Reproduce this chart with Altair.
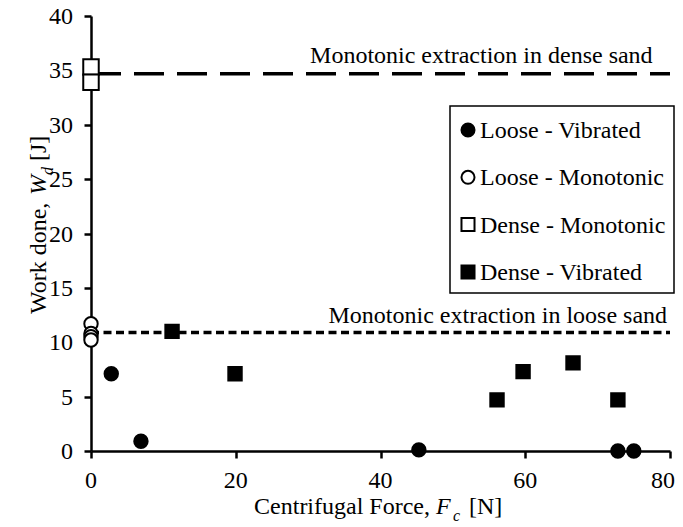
import altair as alt
import pandas as pd

FONT = "Liberation Serif"

series = ["Loose - Vibrated", "Loose - Monotonic", "Dense - Monotonic", "Dense - Vibrated"]
series_shapes = ["circle", "circle", "square", "square"]
series_fills = ["black", "white", "white", "black"]

loose_vib_F = [2.8, 6.9, 45.3, 72.8, 75.0]
loose_vib_W = [7.1, 0.9, 0.1, 0.0, 0.0]
loose_mono_F = [0.0, 0.0, 0.0, 0.0]
loose_mono_W = [10.2, 10.5, 10.8, 11.7]
dense_mono_F = [0.0, 0.0]
dense_mono_W = [35.3, 33.9]
dense_vib_F = [11.2, 19.9, 56.1, 59.7, 66.6, 72.8]
dense_vib_W = [11.0, 7.1, 4.7, 7.3, 8.1, 4.7]

ref_labels = ["Monotonic extraction in dense sand", "Monotonic extraction in loose sand"]
ref_W = [34.7, 10.9]
ref_F_start = [0, 0]
ref_F_end = [80, 80]

x_ticks = [0, 20, 40, 60, 80]
y_ticks = [0, 5, 10, 15, 20, 25, 30, 35, 40]

rows = []
for name, fs, ws in [
    (series[0], loose_vib_F, loose_vib_W),
    (series[1], loose_mono_F, loose_mono_W),
    (series[2], dense_mono_F, dense_mono_W),
    (series[3], dense_vib_F, dense_vib_W),
]:
    for f, w in zip(fs, ws):
        rows.append({"series": name, "F": f, "W": w})
pts = pd.DataFrame(rows)

lines = pd.DataFrame({"label": ref_labels, "W": ref_W, "x0": ref_F_start, "x1": ref_F_end})

xscale = alt.Scale(domain=[0, 80], nice=False, zero=False)
yscale = alt.Scale(domain=[0, 40], nice=False, zero=False)
axis_common = dict(
    title=None, labels=False, grid=False,
    domainColor="black", domainWidth=2.5, tickColor="black", tickWidth=2.5, tickSize=7,
)
xaxis = alt.Axis(values=x_ticks, **axis_common)
yaxis = alt.Axis(values=y_ticks, **axis_common)

X = alt.X("F:Q", scale=xscale, axis=xaxis)
Y = alt.Y("W:Q", scale=yscale, axis=yaxis)

SHAPE = alt.Shape("series:N", scale=alt.Scale(domain=series, range=series_shapes), legend=None)
FILL = alt.Fill("series:N", scale=alt.Scale(domain=series, range=series_fills), legend=None)

dense_line = alt.Chart(lines[lines.label == ref_labels[0]]).mark_rule(
    color="black", strokeWidth=3.5, strokeDash=[30, 13]
).encode(
    x=alt.X("x0:Q", scale=xscale, axis=xaxis), x2="x1:Q",
    y=alt.Y("W:Q", scale=yscale, axis=yaxis),
)
loose_line = alt.Chart(lines[lines.label == ref_labels[1]]).mark_rule(
    color="black", strokeWidth=3.5, strokeDash=[8, 4.5]
).encode(
    x=alt.X("x0:Q", scale=xscale, axis=xaxis), x2="x1:Q",
    y=alt.Y("W:Q", scale=yscale, axis=yaxis),
)

points = alt.Chart(pts[pts.series != series[2]]).mark_point(
    filled=True, stroke="black", strokeWidth=2, opacity=1, size=180
).encode(
    x=X, y=Y, shape=SHAPE, fill=FILL,
    order=alt.Order("W:Q", sort="descending"),
)
points_dm = alt.Chart(pts[pts.series == series[2]]).mark_point(
    filled=True, stroke="black", strokeWidth=2, opacity=1, size=240
).encode(
    x=X, y=Y, shape=SHAPE, fill=FILL,
    order=alt.Order("W:Q", sort="descending"),
)

annot_dense = alt.Chart(lines[lines.label == ref_labels[0]]).mark_text(
    align="right", baseline="alphabetic", font=FONT, fontSize=24, color="black", dy=-11
).encode(x=alt.datum(77.6), y=alt.Y("W:Q", scale=yscale, axis=yaxis), text="label:N")
annot_loose = alt.Chart(lines[lines.label == ref_labels[1]]).mark_text(
    align="right", baseline="alphabetic", font=FONT, fontSize=24, color="black", dy=-9
).encode(x=alt.datum(79.6), y=alt.Y("W:Q", scale=yscale, axis=yaxis), text="label:N")

# tick labels (serif), placed through the scales
xt = pd.DataFrame({"v": x_ticks})
x_labels_mid = alt.Chart(xt[xt.v < 80]).mark_text(
    align="center", baseline="alphabetic", font=FONT, fontSize=24, color="black"
).encode(x=alt.X("v:Q", scale=xscale, axis=xaxis), y=alt.value(472), text=alt.Text("v:Q", format="d"))
x_labels_end = alt.Chart(xt[xt.v == 80]).mark_text(
    align="right", baseline="alphabetic", font=FONT, fontSize=24, color="black", dx=5
).encode(x=alt.X("v:Q", scale=xscale, axis=xaxis), y=alt.value(472), text=alt.Text("v:Q", format="d"))
y_labels = alt.Chart(pd.DataFrame({"v": y_ticks})).mark_text(
    align="right", baseline="alphabetic", font=FONT, fontSize=24, color="black", dy=8
).encode(x=alt.value(-18), y=alt.Y("v:Q", scale=yscale, axis=yaxis), text=alt.Text("v:Q", format="d"))

one = pd.DataFrame({"a": [0]})


def piece(text, x, y, size=24, italic=False, angle=0, align="left", dy=0):
    kw = dict(text=text, font=FONT, fontSize=size, color="black", align=align,
              baseline="alphabetic", dy=dy)
    if italic:
        kw["fontStyle"] = "italic"
    if angle:
        kw["angle"] = angle
    return alt.Chart(one).mark_text(**kw).encode(x=alt.value(x), y=alt.value(y))


# legend box and entries
legend_layers = [
    alt.Chart(one).mark_rect(fill="white", stroke="black", strokeWidth=1.5).encode(
        x=alt.value(359), x2=alt.value(583), y=alt.value(90), y2=alt.value(277)
    )
]
for i, name in enumerate(series):
    ly = 114 + 47.3 * i
    legend_layers.append(
        alt.Chart(one).mark_point(
            filled=True, stroke="black", strokeWidth=2, opacity=1, size=170,
            shape=series_shapes[i], fill=series_fills[i]
        ).encode(x=alt.value(377), y=alt.value(ly))
    )
    legend_layers.append(piece(name, 389, ly + 8))

# x-axis title: Centrifugal Force, F_c [N]
xt_y = 498
x_title = [
    piece("Centrifugal Force,", 339, xt_y, align="right"),
    piece("F", 345, xt_y, italic=True),
    piece("c", 362, xt_y, size=16, italic=True, dy=7),
    piece("[N]", 378, xt_y),
]
# y-axis title: Work done, W_d [J]
yt_x = -45
y_title = [
    piece("Work done,", yt_x, 298, angle=270),
    piece("W", yt_x, 179, italic=True, angle=270),
    piece("d", yt_x, 159, size=16, italic=True, angle=270, dy=7),
    piece("[J]", yt_x, 145, angle=270),
]

chart = alt.layer(
    dense_line, loose_line, points, points_dm, annot_dense, annot_loose,
    x_labels_mid, x_labels_end, y_labels, *legend_layers, *x_title, *y_title
).properties(
    width=579, height=435,
    padding={"left": 83, "top": 8, "right": 5, "bottom": 75},
    autosize=alt.AutoSizeParams(type="none"),
).configure(font=FONT).configure_view(stroke=None).configure_axis(
    grid=False, domainColor="black", domainWidth=2.5, tickColor="black",
    tickWidth=2.5, tickSize=7,
)

chart.save("out.html", embed_options={"renderer": "svg", "actions": False})
